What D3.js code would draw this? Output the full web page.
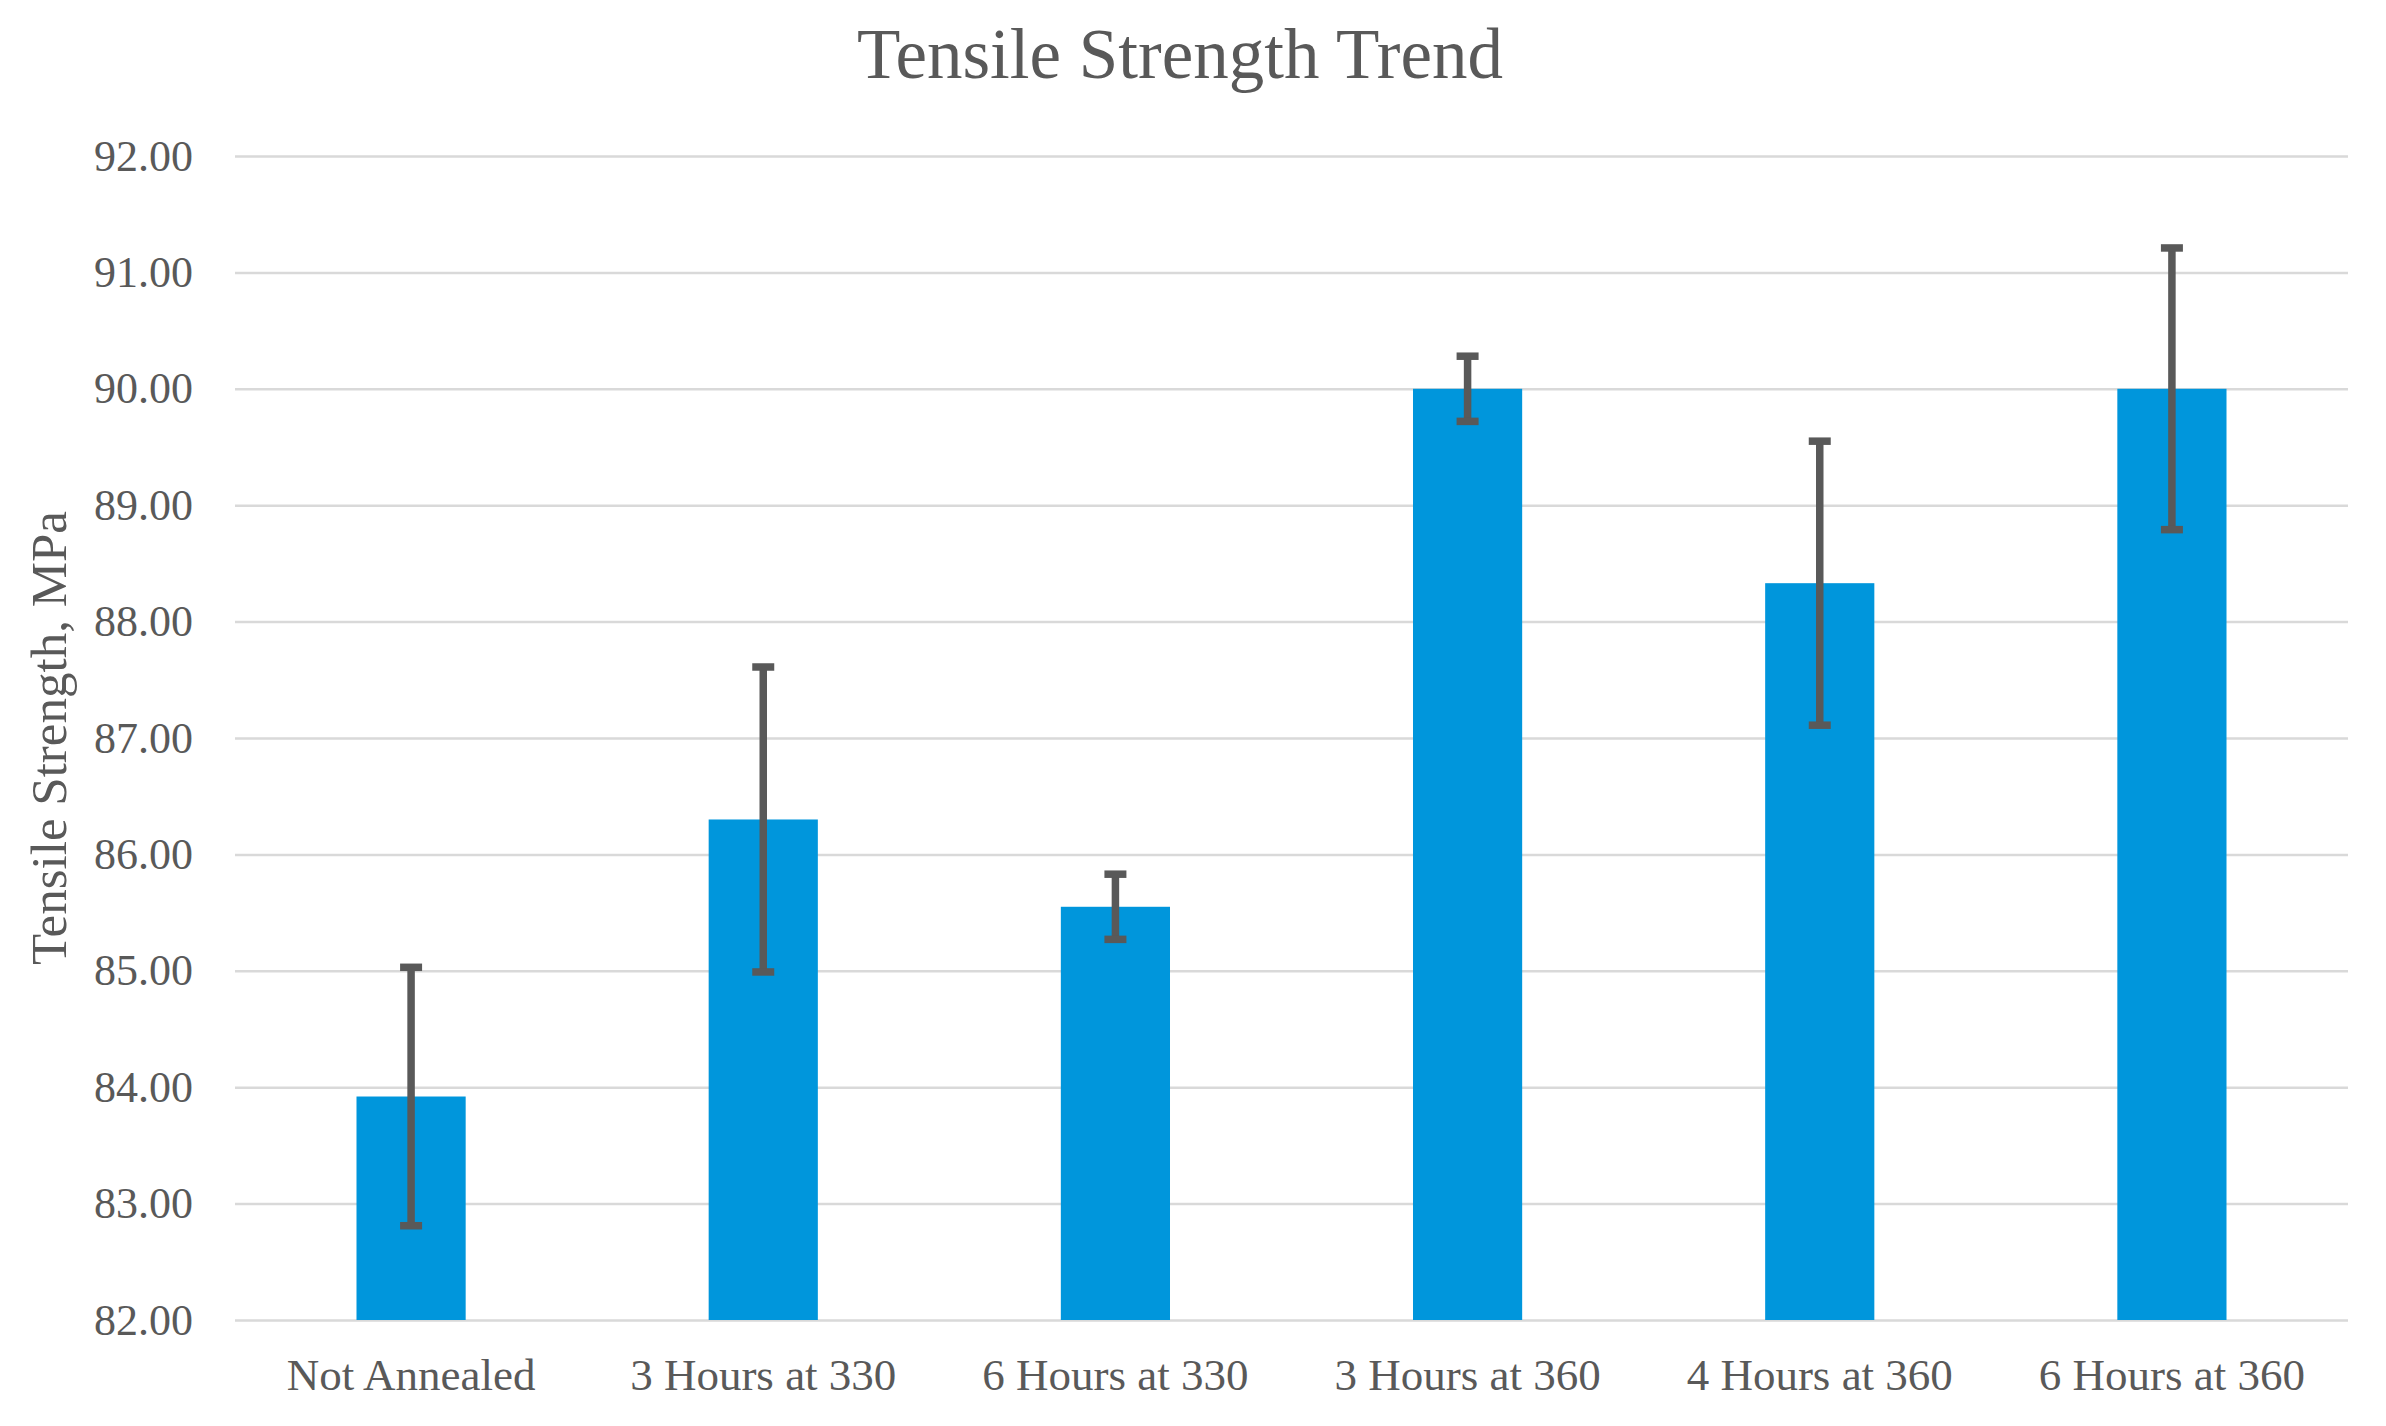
<!DOCTYPE html>
<html>
<head>
<meta charset="utf-8">
<script src="https://cdn.jsdelivr.net/npm/d3@7"></script>
<style>
  html, body { margin: 0; padding: 0; background: #fff; }
  svg { display: block; }
</style>
</head>
<body>
<svg id="chart"></svg>
<script>
// chart data
const categories = ["Not Annealed", "3 Hours at 330", "6 Hours at 330", "3 Hours at 360", "4 Hours at 360", "6 Hours at 360"];
const strength = [83.92, 86.30, 85.55, 90.00, 88.33, 90.00];
const errors = [1.11, 1.31, 0.28, 0.28, 1.22, 1.21];
const yTicks = [82, 83, 84, 85, 86, 87, 88, 89, 90, 91, 92];

const W = 2386, H = 1426;
const margin = { top: 156, right: 38, bottom: 106, left: 235 };
const width = W - margin.left - margin.right;
const height = H - margin.top - margin.bottom;
const font = "'Liberation Serif', 'Times New Roman', serif";

const svg = d3.select("#chart").attr("width", W).attr("height", H);

const g = svg.append("g")
  .attr("transform", `translate(${margin.left},${margin.top})`);

const x = d3.scaleBand()
  .domain(categories)
  .range([0, width])
  .paddingInner(0.69)
  .paddingOuter(0.345);

const y = d3.scaleLinear()
  .domain([82, 92])
  .range([height, 0]);

// gridlines + y labels
const yAxis = g.append("g")
  .call(d3.axisLeft(y).tickValues(yTicks).tickFormat(d3.format(".2f")).tickSize(-width).tickPadding(42));
yAxis.select(".domain").remove();
yAxis.selectAll(".tick line").attr("stroke", "#d9d9d9").attr("stroke-width", 2.5);
yAxis.selectAll(".tick text")
  .style("font-family", font).style("font-size", "44px").attr("fill", "#595959");

// bars
const data = categories.map((c, i) => ({ c, v: strength[i], e: errors[i] }));

g.selectAll(".bar")
  .data(data)
  .enter()
  .append("rect")
  .attr("class", "bar")
  .attr("x", d => x(d.c))
  .attr("y", d => y(d.v))
  .attr("width", x.bandwidth())
  .attr("height", d => y(82) - y(d.v))
  .attr("fill", "#0096dc");

// error bars
const eb = g.selectAll(".err")
  .data(data)
  .enter()
  .append("g")
  .attr("class", "err")
  .attr("stroke", "#595959")
  .attr("stroke-width", 7.5);

const cx = d => x(d.c) + x.bandwidth() / 2;
eb.append("line")
  .attr("x1", cx).attr("x2", cx)
  .attr("y1", d => y(d.v + d.e)).attr("y2", d => y(d.v - d.e));
eb.append("line")
  .attr("x1", d => cx(d) - 11).attr("x2", d => cx(d) + 11)
  .attr("y1", d => y(d.v + d.e)).attr("y2", d => y(d.v + d.e));
eb.append("line")
  .attr("x1", d => cx(d) - 11).attr("x2", d => cx(d) + 11)
  .attr("y1", d => y(d.v - d.e)).attr("y2", d => y(d.v - d.e));

// x labels
const xAxis = g.append("g")
  .attr("transform", `translate(0,${height})`)
  .call(d3.axisBottom(x).tickSize(0).tickPadding(38));
xAxis.select(".domain").remove();
xAxis.selectAll(".tick text")
  .style("font-family", font).style("font-size", "45px").attr("fill", "#595959");

// title
svg.append("text")
  .attr("x", 1180)
  .attr("y", 78)
  .attr("text-anchor", "middle")
  .style("font-family", font)
  .style("font-size", "71px")
  .attr("fill", "#595959")
  .text("Tensile Strength Trend");

// y axis title
svg.append("text")
  .attr("transform", `translate(66,${margin.top + height / 2}) rotate(-90)`)
  .attr("text-anchor", "middle")
  .style("font-family", font)
  .style("font-size", "51px")
  .attr("fill", "#595959")
  .text("Tensile Strength, MPa");
</script>
</body>
</html>
